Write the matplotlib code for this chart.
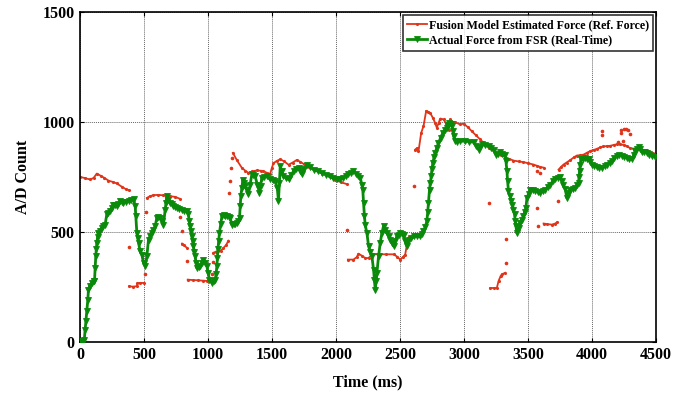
import numpy as np
import matplotlib
matplotlib.use('Agg')
import matplotlib.pyplot as plt

plt.rcParams['font.family'] = ['Liberation Serif', 'DejaVu Serif']
plt.rcParams['font.weight'] = 'bold'

nan = np.nan

# Fusion model estimate (ms, A/D count); NaN splits the trace where it jumps
red_t = [0, 40, 78, 105, 130, 160, 190, 221, 255, 286, 326, 355, 378, nan,
         383, 410, 443, 448, 470, 495, nan,
         521, 545, 573, 610, 650, 703, 742, 781, nan,
         796, 810, 833, nan,
         840, 880, 920, 960, 990, 1010, nan,
         1041, 1060, 1080, 1100, 1119, 1140, 1158, nan,
         1193, 1224, 1263, 1290, 1315, 1345, 1380, 1410, 1432, 1460, 1484, 1497,
         1510, 1535, 1563, 1595, 1628, 1660, 1693, 1720, 1745, 1790, 1836, 1890,
         1940, 1992, 2040, 2083, nan,
         2091, 2135, 2160, 2174, 2200, 2227, 2253, 2279, 2330, 2390, 2448, 2475,
         2500, 2520, 2539, 2552, 2565, 2590, nan,
         2617, 2630, 2643, 2664, 2682, 2703, 2718, 2734, 2755, 2773, 2786, 2800,
         2813, 2839, 2860, 2878, 2891, 2910, 2930, 2969, 2995, 3030, 3060, 3090,
         3125, 3160, 3190, 3225, 3255, 3290, 3320, 3350, 3385, 3425, 3463, 3500,
         3541, 3570, 3594, 3620, nan,
         3203, 3230, 3255, 3268, 3285, 3294, 3320, nan,
         3620, 3650, 3685, 3711, 3724, nan,
         3737, 3756, 3776, 3800, 3828, 3855, 3880, 3905, 3932, 3960, 3984, 4010,
         4036, 4062, 4088, 4115, 4141, 4167, 4193, 4220, 4245, 4270, 4297, 4330,
         4362, 4395, 4427, 4460, 4492]
red_v = [750, 744, 738, 745, 765, 755, 745, 733, 727, 720, 705, 695, 690, nan,
         253, 251, 253, 268, 268, 268, nan,
         654, 662, 667, 668, 666, 662, 659, 650, nan,
         447, 440, 428, nan,
         283, 281, 280, 278, 277, 278, nan,
         405, 410, 412, 415, 427, 440, 460, nan,
         859, 826, 791, 778, 768, 775, 779, 778, 776, 768, 763, 790,
         812, 822, 830, 820, 805, 815, 827, 818, 809, 795, 780, 765,
         753, 736, 725, 717, nan,
         374, 374, 385, 401, 392, 381, 381, 398, 398, 398, 398, 388,
         374, 385, 397, 440, 475, 478, nan,
         874, 880, 866, 950, 980, 1050, 1046, 1041, 1018, 995, 973, 995,
         1015, 1011, 990, 965, 1011, 1000, 998, 988, 992, 975, 957, 940,
         920, 900, 882, 870, 859, 850, 841, 832, 824, 820, 817, 812,
         806, 800, 795, 792, nan,
         245, 245, 245, 276, 300, 307, 314, nan,
         538, 535, 533, 538, 543, nan,
         783, 795, 806, 815, 826, 838, 847, 848, 851, 860, 867, 872,
         877, 884, 888, 890, 891, 895, 898, 897, 895, 890, 880, 878,
         876, 873, 870, 863, 855]

# stray estimate samples during the fast jumps
red_stray_t = [380, 505, 516, 781, 794, 836, 1029, 1036, 1164, 1172, 1180, 1185,
               2088, 2604, 3197, 3326, 3326, 3568, 3594, 3568, 3576, 3729,
               4076, 4080, 4205, 4221, 4221, 4240, 4250, 4263, 4276, 4297]
red_stray_v = [432, 310, 589, 567, 503, 367, 307, 362, 677, 730, 791, 836,
               510, 707, 629, 359, 468, 776, 768, 609, 526, 642,
               960, 942, 910, 965, 950, 915, 968, 966, 962, 945]

# FSR real-time reading
green_t = [8, 17, 25, 32, 39, 45, 52, 60, 65, 75, 91, 105, 112, 117, 122, 126, 130,
           136, 143, 155, 169, 182, 195, 208, 220, 234, 247, 260, 273, 286, 299,
           312, 325, 338, 358, 378, 398, 417, 430, 435, 443, 450, 456, 469, 482,
           495, 508, 521, 534, 547, 560, 573, 586, 599, 612, 625, 638, 651, 664,
           670, 677, 690, 703, 716, 729, 742, 755, 775, 794, 814, 833, 846, 852,
           859, 866, 872, 879, 885, 892, 898, 905, 911, 925, 938, 950, 963, 976,
           990, 1000, 1010, 1029, 1042, 1055, 1062, 1068, 1072, 1076, 1082, 1088,
           1098, 1107, 1120, 1133, 1146, 1159, 1172, 1185, 1198, 1211, 1224, 1235,
           1245, 1250, 1255, 1263, 1271, 1280, 1289, 1302, 1315, 1328, 1341, 1354,
           1367, 1384, 1401, 1410, 1419, 1438, 1458, 1484, 1510, 1523, 1540, 1549,
           1556, 1563, 1575, 1588, 1608, 1628, 1648, 1667, 1687, 1706, 1719, 1732,
           1752, 1771, 1797, 1823, 1855, 1888, 1920, 1953, 1979, 2005, 2031, 2057,
           2077, 2096, 2115, 2135, 2155, 2174, 2188, 2201, 2208, 2214, 2221, 2227,
           2240, 2253, 2266, 2279, 2292, 2299, 2305, 2312, 2318, 2331, 2344, 2357,
           2370, 2383, 2396, 2409, 2422, 2435, 2448, 2461, 2474, 2487, 2500, 2513,
           2526, 2539, 2552, 2565, 2585, 2604, 2630, 2656, 2670, 2682, 2695, 2708,
           2715, 2721, 2729, 2735, 2742, 2748, 2755, 2764, 2773, 2786, 2799, 2816,
           2833, 2849, 2865, 2875, 2885, 2895, 2904, 2911, 2917, 2930, 2943, 2969,
           3008, 3040, 3073, 3092, 3112, 3125, 3138, 3164, 3190, 3210, 3229, 3248,
           3265, 3281, 3298, 3315, 3326, 3334, 3339, 3346, 3359, 3368, 3377, 3385,
           3393, 3399, 3404, 3412, 3425, 3438, 3450, 3463, 3472, 3482, 3490, 3503,
           3516, 3535, 3555, 3575, 3594, 3614, 3633, 3652, 3672, 3692, 3711, 3730,
           3750, 3762, 3771, 3789, 3802, 3815, 3828, 3848, 3867, 3880, 3893, 3897,
           3901, 3906, 3911, 3928, 3945, 3958, 3971, 3984, 3997, 4016, 4036, 4056,
           4076, 4096, 4115, 4135, 4154, 4174, 4193, 4212, 4232, 4251, 4271, 4290,
           4310, 4323, 4336, 4349, 4362, 4375, 4388, 4408, 4427, 4447, 4466, 4492]
green_v = [0, 2, 5, 8, 56, 95, 139, 192, 238, 255, 268, 275, 276, 336, 389, 420, 450,
           475, 495, 505, 518, 525, 533, 579, 585, 594, 608, 624, 620, 617, 628,
           639, 636, 632, 637, 642, 646, 650, 617, 571, 495, 470, 450, 412, 397,
           359, 344, 389, 465, 480, 495, 510, 526, 564, 566, 564, 550, 533, 601,
           630, 662, 645, 632, 625, 617, 612, 609, 605, 601, 597, 594, 579, 550,
           526, 505, 480, 457, 435, 410, 389, 360, 336, 340, 344, 358, 374, 360,
           344, 312, 283, 268, 275, 283, 310, 344, 380, 420, 458, 495,
           535, 571, 575, 572, 573, 568, 564, 533, 535, 538, 541, 548,
           564, 617, 662, 700, 737, 722, 707, 690, 670, 715, 761, 757,
           753, 715, 677, 710, 746, 750, 753, 738, 735, 730, 700, 639,
           720, 798, 775, 753, 745, 738, 757, 776, 784, 791, 776, 761,
           784, 806, 795, 783, 776, 768, 760, 753, 745, 738, 741, 745,
           753, 761, 768, 776, 765, 753, 745, 715, 690, 630, 570, 530,
           495, 435, 410, 389, 328, 280, 237, 275, 313, 389, 450, 495,
           526, 510, 495, 480, 465, 450, 435, 458, 480, 488, 495, 492,
           488, 460, 435, 465, 472, 480, 480, 480, 490, 503, 520, 548,
           590, 632, 692, 720, 753, 785, 814, 838, 859, 882, 904, 928,
           950, 962, 973, 985, 995, 988, 980, 958, 935, 915, 908, 912,
           912, 910, 907, 890, 874, 885, 897, 893, 890, 882, 874, 851,
           856, 861, 856, 851, 821, 776, 730, 685, 662, 642, 624, 600,
           579, 550, 526, 495, 518, 541, 556, 571, 590, 609, 654, 673,
           692, 688, 685, 681, 677, 685, 692, 703, 715, 730, 738, 744,
           750, 730, 715, 695, 654, 675, 692, 696, 700, 711, 722, 750,
           776, 805, 829, 833, 836, 833, 829, 818, 806, 800, 794, 792,
           791, 798, 806, 814, 821, 834, 847, 848, 847, 842, 836, 832,
           829, 848, 867, 877, 886, 875, 863, 861, 859, 851, 844, 841]

x_ticks = np.arange(0, 4501, 500)
y_ticks = [0, 500, 1000, 1500]

RED = '#e0351a'
GREEN = '#0a8a0a'

fig = plt.figure(figsize=(6.85, 3.93), dpi=100)
ax = fig.add_axes([0.117, 0.13, 0.841, 0.84])

ax.plot(green_t, green_v, '-', color=GREEN, lw=2.0, marker='v', markersize=3.8,
        markeredgewidth=0.6, label='Actual Force from FSR (Real-Time)', zorder=3)
ax.plot(red_t, red_v, '-', color=RED, lw=1.3, marker='.', markersize=2.5,
        label='Fusion Model Estimated Force (Ref. Force)', zorder=2)
ax.plot(red_stray_t, red_stray_v, 'o', color=RED, markersize=1.6, zorder=2)

ax.set_xlim(0, 4500)
ax.set_ylim(0, 1500)
ax.set_xticks(x_ticks)
ax.set_yticks(y_ticks)
ax.tick_params(direction='in', length=3, width=0.8, labelsize=11.5,
               top=True, right=True, pad=4)
for lab in ax.get_xticklabels() + ax.get_yticklabels():
    lab.set_fontweight('bold')
for sp in ax.spines.values():
    sp.set_linewidth(1.2)
    sp.set_color('black')
ax.grid(True, color='#666666', linestyle=(0, (1, 1)), linewidth=0.7)
ax.set_axisbelow(True)

ax.set_xlabel('Time (ms)', fontsize=11.5, fontweight='bold', labelpad=8)
ax.set_ylabel('A/D Count', fontsize=11.5, fontweight='bold', labelpad=8)

handles, labels = ax.get_legend_handles_labels()
leg = ax.legend(handles[::-1], labels[::-1], loc='upper right', fontsize=8.6,
                frameon=True, fancybox=False, borderaxespad=0.25,
                handlelength=1.6, handletextpad=0.2, borderpad=0.35,
                labelspacing=0.3)
leg.get_frame().set_edgecolor('black')
leg.get_frame().set_linewidth(1.2)
for t in leg.get_texts():
    t.set_fontweight('bold')

fig.savefig('out.png', dpi=100)
